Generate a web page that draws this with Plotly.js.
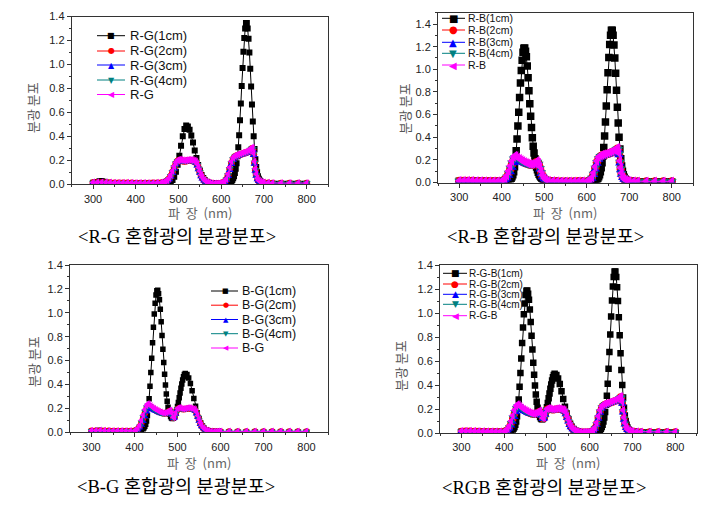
<!DOCTYPE html>
<html><head><meta charset="utf-8">
<script src="https://cdn.plot.ly/plotly-3.0.1.min.js"></script>
<style>html,body{margin:0;padding:0;background:#fff}#chart{width:719px;height:507px}</style>
</head><body><div id="chart"></div>
<script>
// ---------------- 1cm (black) segments ----------------
const uvX = [300,305,310,315,320,325,330,340,350,360,370,380,390];
const uvRG1 = [0.012,0.015,0.02,0.026,0.028,0.022,0.015,0.01,0.008,0.007,0.006,0.006,0.006];
const uvB1 = [0.01,0.012,0.014,0.015,0.015,0.014,0.013,0.011,0.01,0.009,0.009,0.008,0.008];

const rgPreX1 = [400,410,420,430,440,450,460,466,470,474,478,482,486,490,494,498,502,506,510,514,518];
const rgPre1 = [0.006,0.006,0.006,0.006,0.006,0.006,0.007,0.008,0.008,0.009,0.013,0.021,0.036,0.063,0.104,0.164,0.238,0.321,0.4,0.461,0.49];

const blueX1 = [400,404,408,412,416,420,422,424,426,428,430,432,434,436,438,440,442,444,446,448,450,452,454,456,458,460,462,464,466,468,470,472,474,476,478];
const blue1 = [0.008,0.009,0.01,0.013,0.019,0.03,0.038,0.05,0.068,0.095,0.14,0.2,0.28,0.385,0.5,0.62,0.75,0.88,0.99,1.08,1.15,1.185,1.188,1.16,1.11,1.03,0.925,0.81,0.695,0.585,0.485,0.395,0.32,0.26,0.21];

const rbTailX1 = [480,482,484,486,488,490,492,494,496,498,500,504,508,512,516,520,530,540,550,560,570,580,590];
const rbTail1 = [0.17,0.138,0.112,0.09,0.073,0.06,0.049,0.04,0.033,0.027,0.022,0.016,0.012,0.01,0.009,0.008,0.007,0.006,0.006,0.005,0.005,0.005,0.005];

const bgJoinX1 = [480,482,484,486,488,490,492,494,496,498,500,502,504,506,508,510,512,514,516,518];
const bgJoin1 = [0.18,0.153,0.133,0.12,0.115,0.117,0.125,0.138,0.159,0.185,0.215,0.25,0.289,0.329,0.368,0.405,0.438,0.465,0.483,0.493];

const greenX1 = [522,526,530,534,538,542,546,550,554,558,562,566,570,575,580,585,590,595];
const green1 = [0.483,0.455,0.408,0.348,0.283,0.219,0.162,0.115,0.078,0.052,0.033,0.022,0.015,0.01,0.007,0.006,0.005,0.005];

const redX1 = [600,605,610,614,618,620,622,624,626,628,630,632,634,636,638,640,642,644,646,648,650,652,654,656,658,660,662,664,666,668,670,672,674,676,678,680,682,684,686,688,690,692,694,697,700,705,710,720,730,740,750,760,770,780,790,800];
const red1 = [0.006,0.007,0.009,0.011,0.015,0.018,0.022,0.028,0.036,0.05,0.068,0.095,0.13,0.175,0.235,0.31,0.41,0.535,0.675,0.82,0.97,1.105,1.22,1.3,1.345,1.345,1.3,1.215,1.1,0.965,0.815,0.665,0.525,0.4,0.295,0.21,0.145,0.1,0.068,0.046,0.032,0.023,0.017,0.012,0.01,0.008,0.006,0.005,0.004,0.004,0.004,0.004,0.004,0.004,0.004,0.004];

const gTailX1 = [600,620,640,660,680,700,720,740,760,780,800];
const gTail1 = [0.005,0.005,0.005,0.005,0.005,0.004,0.004,0.004,0.004,0.004,0.004];

// ---------------- wavelength grids for 2cm/3cm/4cm/mix ----------------
const mU = [300,310,320,330,340,350,360,370,380,390];
const mB = [400,404,408,412,416,420,424,428,431,434,438,442,446,450,454,458,462,466,470,474,478];
const mRGpre = [400,410,420,430,440,450,460,466,470,474,478,482,486,490,494,498];
const mRBpost = [481,484,487,490,493,496,500,504,510,520,530,540,550,560,570,580,590];
const mBGjoin = [481,484,487,490,493,496];
const mG = [500,503,506,510,514,518,522,526,530,534,538,541,544,547,550,553,556,560,564,568,572,578,585,590,595];
const mR = [600,604,608,612,616,620,624,628,632,636,640,645,650,655,660,665,669,672,674,676,678,680,682,685,688,692,696,700,710,720,740,760,780,800];
const mGT = [600,620,640,660,680,700,720,740,760,780,800];

// mix (magenta)
const mixU = [0.016,0.016,0.017,0.016,0.014,0.013,0.012,0.012,0.012,0.012];
const mixB = [0.014,0.02,0.035,0.06,0.1,0.145,0.19,0.225,0.238,0.235,0.222,0.21,0.2,0.19,0.182,0.175,0.168,0.164,0.162,0.165,0.172];
const mixRGpre = [0.01,0.01,0.01,0.01,0.011,0.012,0.014,0.018,0.024,0.035,0.052,0.078,0.112,0.15,0.182,0.2];
const mixRBpost = [0.185,0.19,0.175,0.14,0.1,0.065,0.04,0.025,0.017,0.013,0.011,0.01,0.01,0.01,0.01,0.011,0.012];
const mixBGjoin = [0.183,0.185,0.16,0.125,0.13,0.165];
const mixG = [0.2,0.206,0.205,0.2,0.198,0.2,0.203,0.205,0.203,0.2,0.198,0.19,0.17,0.14,0.11,0.08,0.058,0.038,0.025,0.017,0.012,0.009,0.007,0.007,0.008];
const mixR = [0.01,0.014,0.024,0.045,0.085,0.14,0.19,0.222,0.238,0.245,0.25,0.255,0.262,0.268,0.275,0.283,0.295,0.307,0.3,0.26,0.19,0.13,0.085,0.05,0.032,0.022,0.017,0.014,0.012,0.01,0.01,0.01,0.01,0.01];
const mixGT = [0.008,0.008,0.008,0.008,0.008,0.008,0.008,0.008,0.008,0.008,0.008];

// 2cm (red)
const c2U = [0.013,0.014,0.014,0.013,0.012,0.011,0.011,0.01,0.01,0.01];
const c2B = [0.012,0.017,0.028,0.048,0.08,0.118,0.16,0.198,0.217,0.218,0.21,0.2,0.191,0.183,0.175,0.169,0.163,0.159,0.157,0.16,0.167];
const c2RGpre = [0.009,0.009,0.009,0.009,0.01,0.011,0.012,0.016,0.021,0.031,0.046,0.07,0.102,0.14,0.173,0.194];
const c2RBpost = [0.178,0.182,0.163,0.127,0.088,0.056,0.035,0.022,0.015,0.011,0.01,0.009,0.009,0.009,0.009,0.01,0.011];
const c2BGjoin = [0.176,0.177,0.152,0.12,0.125,0.158];
const c2G = [0.195,0.2,0.2,0.195,0.193,0.195,0.198,0.2,0.198,0.195,0.193,0.184,0.162,0.132,0.102,0.073,0.052,0.034,0.022,0.015,0.011,0.008,0.007,0.007,0.007];
const c2R = [0.009,0.012,0.021,0.04,0.076,0.128,0.178,0.212,0.23,0.238,0.243,0.248,0.255,0.261,0.268,0.276,0.287,0.299,0.292,0.251,0.18,0.12,0.077,0.045,0.028,0.019,0.015,0.012,0.011,0.009,0.009,0.009,0.009,0.009];
const c2GT = [0.007,0.007,0.007,0.007,0.007,0.007,0.007,0.007,0.007,0.007,0.007];

// 3cm (blue)
const c3U = [0.011,0.012,0.012,0.011,0.01,0.009,0.009,0.008,0.008,0.008];
const c3B = [0.01,0.014,0.022,0.037,0.061,0.092,0.132,0.172,0.196,0.202,0.197,0.19,0.182,0.175,0.168,0.162,0.157,0.153,0.152,0.154,0.161];
const c3RGpre = [0.008,0.008,0.008,0.008,0.009,0.01,0.011,0.014,0.019,0.027,0.041,0.063,0.093,0.13,0.165,0.188];
const c3RBpost = [0.171,0.174,0.152,0.115,0.077,0.048,0.03,0.019,0.013,0.01,0.009,0.008,0.008,0.008,0.008,0.008,0.009];
const c3BGjoin = [0.169,0.17,0.145,0.115,0.12,0.152];
const c3G = [0.191,0.196,0.195,0.191,0.189,0.191,0.194,0.196,0.194,0.191,0.188,0.178,0.155,0.124,0.094,0.066,0.047,0.03,0.02,0.014,0.01,0.008,0.006,0.006,0.007];
const c3R = [0.008,0.011,0.018,0.035,0.067,0.117,0.167,0.203,0.222,0.231,0.237,0.242,0.249,0.255,0.261,0.269,0.28,0.291,0.285,0.242,0.17,0.11,0.07,0.04,0.025,0.017,0.013,0.011,0.01,0.008,0.008,0.008,0.008,0.008];
const c3GT = [0.006,0.006,0.006,0.006,0.006,0.006,0.006,0.006,0.006,0.006,0.006];

// 4cm (dark cyan)
const c4U = [0.014,0.014,0.015,0.014,0.012,0.011,0.011,0.011,0.011,0.011];
const c4B = [0.012,0.016,0.028,0.05,0.085,0.13,0.175,0.21,0.225,0.224,0.212,0.2,0.19,0.181,0.174,0.167,0.16,0.156,0.155,0.158,0.165];
const c4RGpre = [0.009,0.009,0.009,0.009,0.01,0.011,0.013,0.016,0.021,0.031,0.047,0.071,0.104,0.142,0.175,0.194];
const c4RBpost = [0.178,0.182,0.165,0.128,0.09,0.056,0.034,0.021,0.015,0.012,0.01,0.009,0.009,0.009,0.009,0.01,0.011];
const c4BGjoin = [0.176,0.178,0.152,0.12,0.125,0.158];
const c4G = [0.195,0.2,0.2,0.195,0.193,0.195,0.198,0.2,0.198,0.195,0.192,0.184,0.163,0.132,0.102,0.073,0.052,0.034,0.022,0.015,0.011,0.008,0.007,0.007,0.008];
const c4R = [0.009,0.013,0.021,0.04,0.077,0.13,0.18,0.214,0.232,0.24,0.245,0.25,0.257,0.263,0.27,0.278,0.29,0.3,0.294,0.253,0.182,0.122,0.078,0.045,0.028,0.019,0.015,0.013,0.011,0.01,0.01,0.01,0.01,0.01];
const c4GT = [0.008,0.008,0.008,0.008,0.008,0.008,0.008,0.008,0.008,0.008,0.008];

// ---------------- labels ----------------
const namesRG = ['R-G(1cm)','R-G(2cm)','R-G(3cm)','R-G(4cm)','R-G'];
const namesRB = ['R-B(1cm)','R-B(2cm)','R-B(3cm)','R-B(4cm)','R-B'];
const namesBG = ['B-G(1cm)','B-G(2cm)','B-G(3cm)','B-G(4cm)','B-G'];
const namesRGB = ['R-G-B(1cm)','R-G-B(2cm)','R-G-B(3cm)','R-G-B(4cm)','R-G-B'];
const captions = ['&lt;R-G 혼합광의 분광분포&gt;','&lt;R-B 혼합광의 분광분포&gt;','&lt;B-G 혼합광의 분광분포&gt;','&lt;RGB 혼합광의 분광분포&gt;'];
const xTitle = '파\u00a0\u00a0장\u00a0\u00a0(nm)';
const yTitle = '분광 분포';

// ---------------- build ----------------
const cat = (...a) => [].concat(...a);
const colors = ['#000000','#ff0000','#0000ff','#008080','#ff00ff'];
const symbols = ['square','circle','triangle-up','triangle-down','triangle-left'];
const glyphs = ['\u25A0','\u25CF','\u25B2','\u25BC','\u25C0'];

const panels = [
  {names:namesRG, xa:'x', ya:'y', ms:6,
   x1:cat(uvX,rgPreX1,greenX1,redX1), y1:cat(uvRG1,rgPre1,green1,red1),
   xm:cat(mU,mRGpre,mG,mR),
   ys:[cat(c2U,c2RGpre,c2G,c2R),cat(c3U,c3RGpre,c3G,c3R),cat(c4U,c4RGpre,c4G,c4R),cat(mixU,mixRGpre,mixG,mixR)]},
  {names:namesRB, xa:'x2', ya:'y2', ms:7.5,
   x1:cat(uvX,blueX1,rbTailX1,redX1), y1:cat(uvB1,blue1,rbTail1,red1),
   xm:cat(mU,mB,mRBpost,mR),
   ys:[cat(c2U,c2B,c2RBpost,c2R),cat(c3U,c3B,c3RBpost,c3R),cat(c4U,c4B,c4RBpost,c4R),cat(mixU,mixB,mixRBpost,mixR)]},
  {names:namesBG, xa:'x3', ya:'y3', ms:5.5,
   x1:cat(uvX,blueX1,bgJoinX1,greenX1,gTailX1), y1:cat(uvB1,blue1,bgJoin1,green1,gTail1),
   xm:cat(mU,mB,mBGjoin,mG,mGT),
   ys:[cat(c2U,c2B,c2BGjoin,c2G,c2GT),cat(c3U,c3B,c3BGjoin,c3G,c3GT),cat(c4U,c4B,c4BGjoin,c4G,c4GT),cat(mixU,mixB,mixBGjoin,mixG,mixGT)]},
  {names:namesRGB, xa:'x4', ya:'y4', ms:6.5,
   x1:cat(uvX,blueX1,bgJoinX1,greenX1,redX1), y1:cat(uvB1,blue1,bgJoin1,green1,red1),
   xm:cat(mU,mB,mBGjoin,mG,mR),
   ys:[cat(c2U,c2B,c2BGjoin,c2G,c2R),cat(c3U,c3B,c3BGjoin,c3G,c3R),cat(c4U,c4B,c4BGjoin,c4G,c4R),cat(mixU,mixB,mixBGjoin,mixG,mixR)]}
];

const traces = [];
panels.forEach(p => {
  traces.push({x:p.x1, y:p.y1, xaxis:p.xa, yaxis:p.ya, name:p.names[0], type:'scatter', mode:'lines+markers',
    line:{color:colors[0], width:1}, marker:{symbol:symbols[0], size:p.ms, color:colors[0]}});
  for (let k = 0; k < 4; k++) {
    traces.push({x:p.xm, y:p.ys[k], xaxis:p.xa, yaxis:p.ya, name:p.names[k+1], type:'scatter', mode:'lines+markers',
      line:{color:colors[k+1], width:1}, marker:{symbol:symbols[k+1], size:p.ms+1, color:colors[k+1]}});
  }
});

const W = 719, H = 507;
const X = v => v / W, Y = v => 1 - v / H;

function xax(d0, d1, anchor) {
  return {domain:[X(d0), X(d1)], anchor:anchor, range:[250,850], tick0:0, dtick:100,
    ticks:'outside', ticklen:4, tickwidth:1, tickcolor:'#333',
    minor:{dtick:50, ticks:'outside', ticklen:2, tickcolor:'#333'},
    showline:true, linecolor:'#333', linewidth:1, mirror:true, showgrid:false, zeroline:false,
    tickfont:{family:'Liberation Sans, Arial, sans-serif', size:11, color:'#222'}};
}
function yax(t, b, anchor, top) {
  return {domain:[Y(b), Y(t)], anchor:anchor, range:[0, top], tick0:0, dtick:0.2, tickformat:'.1f',
    ticks:'outside', ticklen:4, tickwidth:1, tickcolor:'#333',
    minor:{dtick:0.1, ticks:'outside', ticklen:2, tickcolor:'#333'},
    showline:true, linecolor:'#333', linewidth:1, mirror:true, showgrid:false, zeroline:false,
    tickfont:{family:'Liberation Sans, Arial, sans-serif', size:11, color:'#222'}};
}

const annotations = [];
const shapes = [];
const legendCfg = [
  {l0:97, l1:125, mk:111, tx:129, rows:[35.7,51,65,80,94.5], fs:13, gs:8},
  {l0:442, l1:465, mk:453, tx:467, rows:[18.3,30,42.3,53.3,65], fs:10.5, gs:10},
  {l0:211, l1:238, mk:226, tx:241, rows:[291,305.2,319.5,333.7,348], fs:12.5, gs:7},
  {l0:443, l1:467, mk:455, tx:468, rows:[273.3,284,294.3,304.3,315.7], fs:10, gs:9}
];
legendCfg.forEach((c, pi) => {
  c.rows.forEach((ry, i) => {
    shapes.push({type:'line', xref:'paper', yref:'paper', x0:X(c.l0), x1:X(c.l1), y0:Y(ry), y1:Y(ry), line:{color:colors[i], width:1}});
    annotations.push({xref:'paper', yref:'paper', x:X(c.mk), y:Y(ry), text:glyphs[i], showarrow:false,
      font:{family:'DejaVu Sans', size:c.gs, color:colors[i]}, xanchor:'center', yanchor:'middle', borderpad:0});
    annotations.push({xref:'paper', yref:'paper', x:X(c.tx), y:Y(ry), text:panels[pi].names[i], showarrow:false,
      font:{family:'Liberation Sans, Arial, sans-serif', size:c.fs, color:'#111'}, xanchor:'left', yanchor:'middle', borderpad:0});
  });
});

const titlePos = [
  {xt:[200,213], yt:[33,108], cap:[177,237]},
  {xt:[565,213], yt:[404,109], cap:[545,237]},
  {xt:[199,462], yt:[33,362], cap:[176,487]},
  {xt:[568,462], yt:[400,366], cap:[544,488]}
];
titlePos.forEach((t, i) => {
  annotations.push({xref:'paper', yref:'paper', x:X(t.xt[0]), y:Y(t.xt[1]), text:xTitle, showarrow:false, borderpad:0,
    font:{family:'Noto Sans CJK KR, sans-serif', size:13, color:'#666'}, xanchor:'center', yanchor:'middle'});
  annotations.push({xref:'paper', yref:'paper', x:X(t.yt[0]), y:Y(t.yt[1]), text:yTitle, showarrow:false, textangle:-90, borderpad:0,
    font:{family:'Noto Sans CJK KR, sans-serif', size:13, color:'#555'}, xanchor:'center', yanchor:'middle'});
  annotations.push({xref:'paper', yref:'paper', x:X(t.cap[0]), y:Y(t.cap[1]), text:captions[i], showarrow:false, borderpad:0,
    font:{family:'Liberation Serif, Noto Sans CJK KR, serif', size:18.5, color:'#000'}, xanchor:'center', yanchor:'middle'});
});

const layout = {
  width:W, height:H, margin:{l:0, r:0, t:0, b:0}, paper_bgcolor:'#fff', plot_bgcolor:'#fff', showlegend:false,
  xaxis: xax(71.7, 328, 'y'),  yaxis: yax(16.5, 184.3, 'x', 1.4),
  xaxis2: xax(438, 693, 'y2'), yaxis2: yax(12.7, 182.5, 'x2', 1.5),
  xaxis3: xax(70, 328, 'y3'),  yaxis3: yax(265, 432.3, 'x3', 1.4),
  xaxis4: xax(440, 696.7, 'y4'), yaxis4: yax(265, 433, 'x4', 1.4),
  annotations: annotations, shapes: shapes
};
Plotly.newPlot('chart', traces, layout, {staticPlot:true, displayModeBar:false});
</script></body></html>
